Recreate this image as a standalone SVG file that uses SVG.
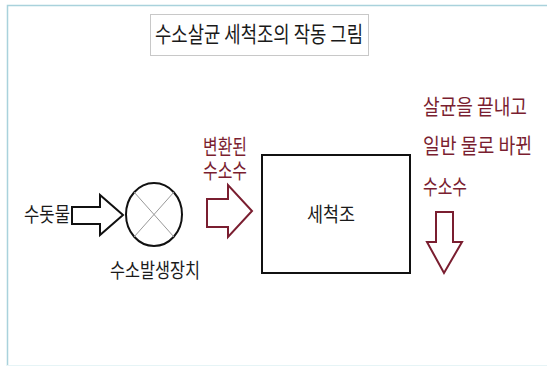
<svg xmlns="http://www.w3.org/2000/svg" width="547" height="366" viewBox="0 0 547 366">
<style>
text{font-family:"Noto Sans CJK KR","Noto Sans",sans-serif;}
.k{fill:#1a1a1a;font-size:20px;}
.r{fill:#7a1e30;font-size:21px;}
.ol{fill:#fff;stroke:#111;stroke-width:2;stroke-linejoin:miter;}
.or{fill:#fff;stroke:#7a1e30;stroke-width:2;stroke-linejoin:miter;}
</style>
<rect x="0" y="0" width="547" height="366" fill="#fff"/>
<path d="M7.5 366V5.5H547" fill="none" stroke="#a9d2dc" stroke-width="1.5"/>
<line x1="7" y1="365.5" x2="547" y2="365.5" stroke="#e6f4f6" stroke-width="1"/>
<g id="title">
<rect x="150.5" y="14.5" width="218" height="41" fill="#fff" stroke="#c8c8c8" stroke-width="1"/>
<text x="259" y="42" text-anchor="middle" textLength="208" lengthAdjust="spacingAndGlyphs" style="fill:#1a1a1a;font-size:22px">수소살균 세척조의 작동 그림</text>
</g>
<g id="tapwater">
<text class="k" x="24" y="222" textLength="46" lengthAdjust="spacingAndGlyphs">수돗물</text>
</g>
<g id="generator">
<ellipse cx="154" cy="214.5" rx="28" ry="31.5" fill="#fff" stroke="#111" stroke-width="2"/>
<line x1="134" y1="192" x2="174" y2="237" stroke="#999" stroke-width="1"/>
<line x1="174" y1="192" x2="134" y2="237" stroke="#999" stroke-width="1"/>
<text class="k" x="155" y="278" text-anchor="middle" textLength="90" lengthAdjust="spacingAndGlyphs">수소발생장치</text>
</g>
<g id="tank">
<rect x="262" y="155" width="148" height="118" fill="#fff" stroke="#111" stroke-width="2"/>
<text class="k" x="331" y="222" text-anchor="middle" textLength="48" lengthAdjust="spacingAndGlyphs">세척조</text>
</g>
<g id="label-converted">
<text class="r" x="203" y="154" textLength="44" lengthAdjust="spacingAndGlyphs">변환된</text>
<text class="r" x="203" y="178" textLength="44" lengthAdjust="spacingAndGlyphs">수소수</text>
</g>
<g id="label-out">
<text class="r" x="423" y="114" textLength="104" lengthAdjust="spacingAndGlyphs">살균을 끝내고</text>
<text class="r" x="423" y="153" textLength="109" lengthAdjust="spacingAndGlyphs">일반 물로 바뀐</text>
<text class="r" x="423" y="194" textLength="44" lengthAdjust="spacingAndGlyphs">수소수</text>
</g>
<g id="connectors">
<path class="ol" d="M72 207H100V195L123 215L100 235V224H72Z"/>
<path class="or" d="M207 199H228V185L252 211L228 237V227H207Z"/>
<path class="or" d="M436 212H453V242H462L444 273L427 242H436Z"/>
</g>
</svg>
